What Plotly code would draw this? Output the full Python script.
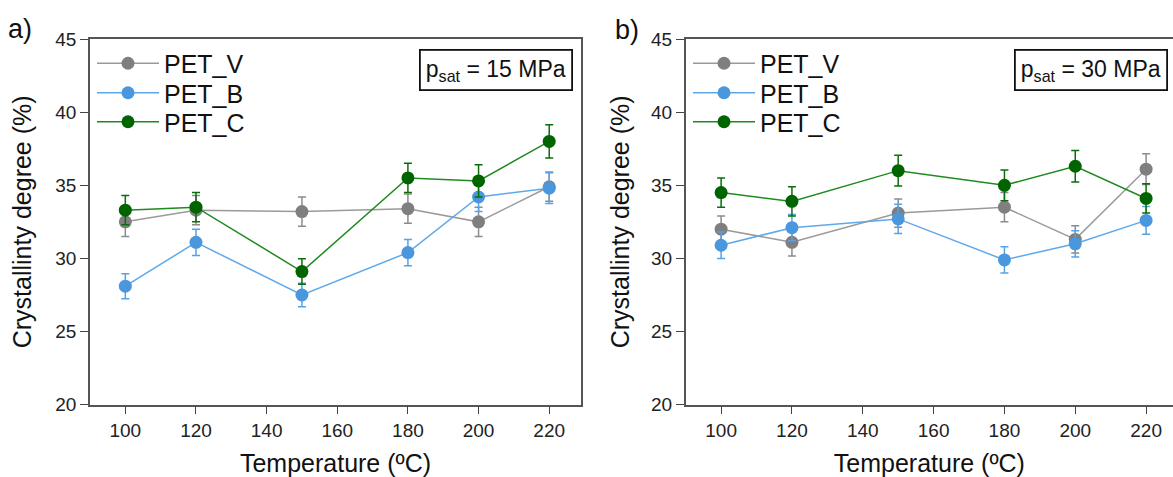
import plotly.graph_objects as go

W, H = 1173, 477

temperature = [100, 120, 150, 180, 200, 220]
series_names = ["PET_V", "PET_B", "PET_C"]

# Panel a) p_sat = 15 MPa
a_V = [32.5, 33.3, 33.2, 33.4, 32.5, 34.9]
a_V_err = [1.0, 1.0, 1.0, 1.0, 1.0, 1.0]
a_B = [28.1, 31.1, 27.5, 30.4, 34.2, 34.8]
a_B_err = [0.85, 0.9, 0.8, 0.9, 1.0, 1.05]
a_C = [33.3, 33.5, 29.1, 35.5, 35.3, 38.0]
a_C_err = [1.0, 1.0, 0.87, 1.0, 1.1, 1.13]

# Panel b) p_sat = 30 MPa
b_V = [32.0, 31.1, 33.1, 33.5, 31.3, 36.1]
b_V_err = [0.9, 0.93, 0.97, 1.0, 0.93, 1.05]
b_B = [30.9, 32.1, 32.7, 29.9, 31.0, 32.6]
b_B_err = [0.9, 0.9, 1.0, 0.9, 0.9, 0.95]
b_C = [34.5, 33.9, 36.0, 35.0, 36.3, 34.1]
b_C_err = [1.0, 1.0, 1.05, 1.05, 1.07, 1.0]

y_ticks = [20, 25, 30, 35, 40, 45]
x_ticks = [100, 120, 140, 160, 180, 200, 220]

line_colors = {"PET_V": "#9a9a9a", "PET_B": "#5fa8ea", "PET_C": "#1f8a1f"}
marker_colors = {"PET_V": "#7f7f7f", "PET_B": "#4a97de", "PET_C": "#006400"}
err_colors = {"PET_V": "#8c8c8c", "PET_B": "#56a2e6", "PET_C": "#0a6e0a"}

FONT = "Liberation Sans, Arial, sans-serif"

def px_x(p):
    return p / W

def px_y(p):
    return 1 - p / H

fig = go.Figure()

legend_rows = [63.5, 93, 122]
panels = [
    ("x", "y", ["legend", "legend2", "legend3"], 92,
     [(a_V, a_V_err), (a_B, a_B_err), (a_C, a_C_err)]),
    ("x2", "y2", ["legend4", "legend5", "legend6"], 688,
     [(b_V, b_V_err), (b_B, b_B_err), (b_C, b_C_err)]),
]

legend_layout = {}
for xa, ya, legs, lx, data in panels:
    for name, leg, ry, (vals, errs) in zip(series_names, legs, legend_rows, data):
        fig.add_trace(go.Scatter(
            x=temperature, y=vals, name=name, xaxis=xa, yaxis=ya, legend=leg,
            mode="lines+markers",
            line=dict(color=line_colors[name], width=1.5),
            marker=dict(color=marker_colors[name], size=13, line=dict(width=0)),
            error_y=dict(type="data", array=errs, visible=True,
                         color=err_colors[name], thickness=1.5, width=4),
        ))
        legend_layout[leg] = dict(
            x=px_x(lx), y=px_y(ry), xanchor="left", yanchor="middle",
            bgcolor="rgba(0,0,0,0)", borderwidth=0,
            font=dict(family=FONT, size=25, color="#111111"),
            itemwidth=62, tracegroupgap=0,
        )

axis_common = dict(
    showline=True, linecolor="#555555", linewidth=1.5,
    ticks="outside", ticklen=8, tickwidth=1.2, tickcolor="#444444",
    showgrid=False, zeroline=False,
    tickfont=dict(family=FONT, size=19, color="#222222"),
    automargin=False,
)

y_top, y_bot = 39, 404.7
ydom = [px_y(y_bot), px_y(y_top)]
title_font = dict(family=FONT, size=25, color="#111111")

fig.update_layout(
    width=W, height=H,
    margin=dict(l=0, r=0, t=0, b=0),
    paper_bgcolor="white", plot_bgcolor="white",
    font=dict(family=FONT, color="#111111"),
    xaxis=dict(domain=[px_x(90), px_x(581)], range=[90, 229], tickvals=x_ticks,
               mirror=True, anchor="y",
               title=dict(text="Temperature (ºC)", font=title_font, standoff=22),
               **axis_common),
    yaxis=dict(domain=ydom, range=[20, 45], tickvals=y_ticks, mirror=True, anchor="x",
               title=dict(text="Crystallinty degree (%)", font=title_font, standoff=17),
               **axis_common),
    xaxis2=dict(domain=[px_x(685.7), 1.0], range=[90, 227.6], tickvals=x_ticks,
                mirror=True, anchor="y2",
                title=dict(text="Temperature (ºC)", font=title_font, standoff=22),
                **axis_common),
    yaxis2=dict(domain=ydom, range=[20, 45], tickvals=y_ticks, mirror=False, anchor="x2",
                title=dict(text="Crystallinty degree (%)", font=title_font, standoff=14),
                **axis_common),
    showlegend=True,
    **legend_layout,
)

box_style = dict(xref="paper", yref="paper", showarrow=False,
                 font=dict(family=FONT, size=23, color="#111111"),
                 bordercolor="#111111", borderwidth=1.8, borderpad=5,
                 bgcolor="white", xanchor="right", yanchor="top")
fig.add_annotation(text="p<sub>sat</sub> = 15 MPa", x=px_x(573), y=px_y(49), **box_style)
fig.add_annotation(text="p<sub>sat</sub> = 30 MPa", x=px_x(1168), y=px_y(49), **box_style)

lab_style = dict(xref="paper", yref="paper", showarrow=False,
                 font=dict(family=FONT, size=27, color="#111111"),
                 xanchor="left", yanchor="middle")
fig.add_annotation(text="a)", x=px_x(6), y=px_y(29), **lab_style)
fig.add_annotation(text="b)", x=px_x(613), y=px_y(30), **lab_style)

fig.write_html(
    "out.html",
    config={"displayModeBar": False},
    post_script="document.body.style.margin='0';document.body.style.overflow='hidden';",
)
